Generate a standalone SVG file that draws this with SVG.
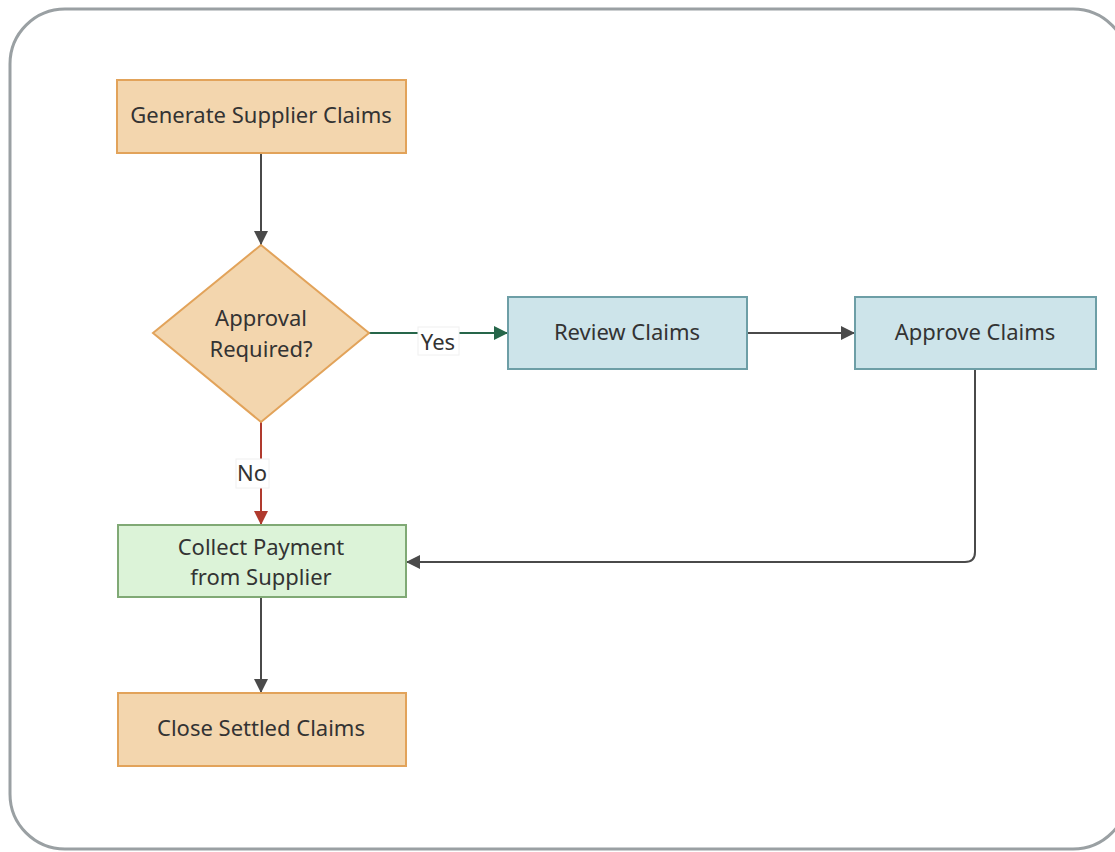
<svg xmlns="http://www.w3.org/2000/svg" width="1115" height="852" viewBox="0 0 1115 852">
<defs>
<style>
.t{font-family:"Noto Sans","Open Sans",sans-serif;font-size:22px;fill:#333;text-anchor:middle}
.or{fill:#f3d6ae;stroke:#e2a35a;stroke-width:2}
.bl{fill:#cde4ea;stroke:#6d9ea6;stroke-width:2}
.gr{fill:#dcf3d8;stroke:#80a975;stroke-width:2}
.c{fill:none;stroke:#4a4a4a;stroke-width:2}
.lbl{fill:#fff;stroke:#f0f0f0;stroke-width:1}
</style>
<marker id="ad" viewBox="0 0 10 10" refX="10" refY="5" markerWidth="14" markerHeight="14" markerUnits="userSpaceOnUse" orient="auto"><path d="M0,0 L10,5 L0,10 z" fill="#4a4a4a"/></marker>
<marker id="ag" viewBox="0 0 10 10" refX="10" refY="5" markerWidth="14" markerHeight="14" markerUnits="userSpaceOnUse" orient="auto"><path d="M0,0 L10,5 L0,10 z" fill="#26664a"/></marker>
<marker id="ar" viewBox="0 0 10 10" refX="10" refY="5" markerWidth="14" markerHeight="14" markerUnits="userSpaceOnUse" orient="auto"><path d="M0,0 L10,5 L0,10 z" fill="#b03a2e"/></marker>
</defs>
<rect x="10" y="9" width="1118" height="840" rx="55" ry="55" fill="#fff" stroke="#9aa0a3" stroke-width="3"/>
<g id="connectors">
<path class="c" d="M261,153 V245" marker-end="url(#ad)"/>
<path d="M369,333 H508" fill="none" stroke="#26664a" stroke-width="2" marker-end="url(#ag)"/>
<rect class="lbl" x="418" y="327" width="41" height="28"/>
<text class="t" x="438" y="350">Yes</text>
<path d="M261,422 V525" fill="none" stroke="#b03a2e" stroke-width="2" marker-end="url(#ar)"/>
<rect class="lbl" x="236" y="459" width="33" height="29"/>
<text class="t" x="252" y="481">No</text>
<path class="c" d="M747,333 H855" marker-end="url(#ad)"/>
<path class="c" d="M975,369 V552 Q975,562 965,562 H406" marker-end="url(#ad)"/>
<path class="c" d="M261,597 V693" marker-end="url(#ad)"/>
</g>
<g id="generate"><rect class="or" x="117" y="80" width="289" height="73"/><text class="t" x="261" y="123">Generate Supplier Claims</text></g>
<g id="approval"><polygon class="or" points="261,245 369,333 261,422 153,333"/><text class="t" x="261" y="326">Approval</text><text class="t" x="261" y="357">Required?</text></g>
<g id="review"><rect class="bl" x="508" y="297" width="239" height="72"/><text class="t" x="627" y="340">Review Claims</text></g>
<g id="approve"><rect class="bl" x="855" y="297" width="241" height="72"/><text class="t" x="975" y="340">Approve Claims</text></g>
<g id="collect"><rect class="gr" x="118" y="525" width="288" height="72"/><text class="t" x="261" y="555">Collect Payment</text><text class="t" x="261" y="585">from Supplier</text></g>
<g id="close"><rect class="or" x="118" y="693" width="288" height="73"/><text class="t" x="261" y="736">Close Settled Claims</text></g>
</svg>
